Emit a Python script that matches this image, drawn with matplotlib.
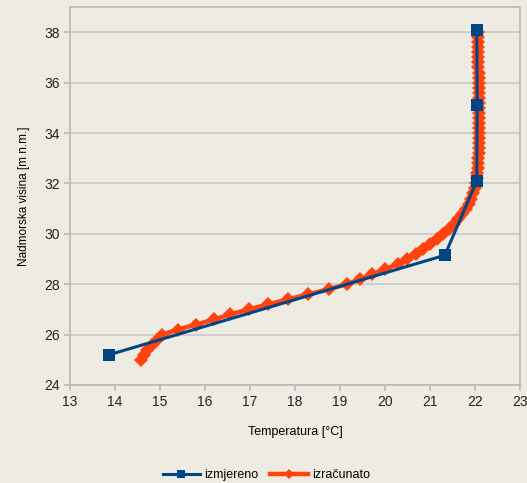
import matplotlib.pyplot as plt

plt.rcParams['font.family'] = ['Liberation Sans', 'DejaVu Sans']

# measured profile
t_izmjereno = [13.87, 21.33, 22.04, 22.05, 22.04]
h_izmjereno = [25.2, 29.15, 32.1, 35.1, 38.1]

# calculated profile
t_izracunato = [14.58, 14.64, 14.72, 14.82, 14.93, 15.05, 15.4, 15.8, 16.2, 16.56,
                16.97, 17.4, 17.85, 18.3, 18.75, 19.15, 19.45, 19.72, 20.0, 20.3,
                20.5, 20.68, 20.85, 21.0, 21.15, 21.3, 21.42, 21.53, 21.63, 21.72,
                21.8, 21.86, 21.91, 21.95, 21.99, 22.02, 22.04, 22.05, 22.06, 22.07,
                22.07, 22.08, 22.08, 22.08, 22.08, 22.08, 22.08, 22.08, 22.08, 22.08,
                22.08, 22.08, 22.08, 22.08, 22.08, 22.08, 22.08, 22.08, 22.07, 22.07,
                22.07, 22.07, 22.07, 22.07, 22.07, 22.07]
h_izracunato = [25.0, 25.2, 25.4, 25.6, 25.8, 26.0, 26.2, 26.4, 26.6, 26.8,
                27.0, 27.2, 27.4, 27.6, 27.8, 28.0, 28.2, 28.4, 28.6, 28.8,
                29.0, 29.2, 29.4, 29.6, 29.8, 30.0, 30.2, 30.4, 30.6, 30.8,
                31.0, 31.2, 31.4, 31.6, 31.8, 32.0, 32.2, 32.4, 32.6, 32.8,
                33.0, 33.2, 33.4, 33.6, 33.8, 34.0, 34.2, 34.4, 34.6, 34.8,
                35.0, 35.2, 35.4, 35.6, 35.8, 36.0, 36.2, 36.4, 36.6, 36.8,
                37.0, 37.2, 37.4, 37.6, 37.8, 38.0]

x_ticks = list(range(13, 24))
y_ticks = list(range(24, 40, 2))

bg = '#eeebe2'
edge = '#b8b8b8'

fig = plt.figure(figsize=(5.27, 4.83), dpi=100, facecolor=bg)
ax = fig.add_axes([0.1328, 0.2029, 0.8539, 0.7826], facecolor=bg)

ax.plot(t_izracunato, h_izracunato, color='#ff420e', lw=3.2, marker='D',
        markersize=7, markeredgewidth=0, label='izračunato', zorder=3)
ax.plot(t_izmjereno, h_izmjereno, color='#004586', lw=2.2, marker='s',
        markersize=8, markeredgewidth=0, label='izmjereno', zorder=4)

ax.set_xlim(13, 23)
ax.set_ylim(24, 39)
ax.set_xticks(x_ticks)
ax.set_yticks(y_ticks)
ax.grid(axis='y', color='#c8c8c8', lw=1.2)
ax.set_axisbelow(True)
for s in ax.spines.values():
    s.set_color(edge)
    s.set_linewidth(1.2)
ax.tick_params(colors=edge, labelcolor='#222222', labelsize=10, length=4, width=1.2)

ax.set_xlabel('Temperatura [°C]', fontsize=9, labelpad=12)
ax.set_ylabel('Nadmorska visina [m n.m.]', fontsize=8.5, labelpad=10)

handles, labels = ax.get_legend_handles_labels()
fig.legend(handles[::-1], labels[::-1], loc='center', bbox_to_anchor=(0.505, 0.016),
           ncol=2, frameon=False, fontsize=9, handlelength=3, columnspacing=1.0,
           handletextpad=0.3, markerscale=0.7)

fig.savefig('out.png', dpi=100, facecolor=bg)
